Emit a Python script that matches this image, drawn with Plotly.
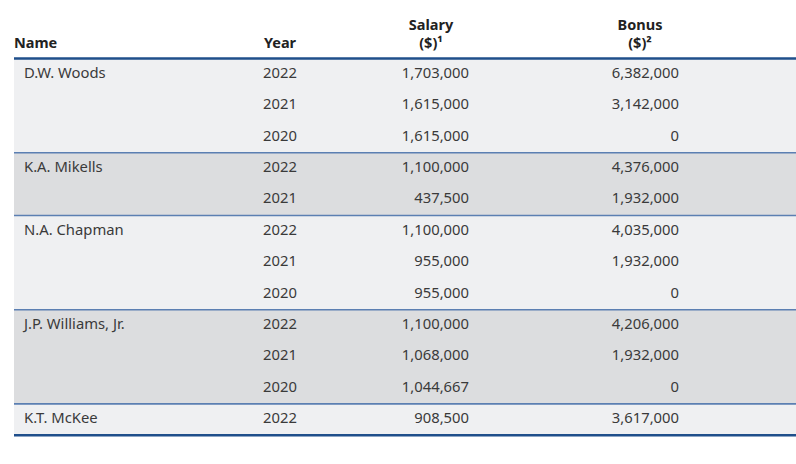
import plotly.graph_objects as go

# ---- data ----
names = ["D.W. Woods", "K.A. Mikells", "N.A. Chapman", "J.P. Williams, Jr.", "K.T. McKee"]
years = [[2022, 2021, 2020], [2022, 2021], [2022, 2021, 2020], [2022, 2021, 2020], [2022]]
salary = [[1703000, 1615000, 1615000], [1100000, 437500], [1100000, 955000, 955000],
          [1100000, 1068000, 1044667], [908500]]
bonus = [[6382000, 3142000, 0], [4376000, 1932000], [4035000, 1932000, 0],
         [4206000, 1932000, 0], [3617000]]
header_top = ["", "", "Salary", "Bonus"]
header_bottom = ["Name", "Year", "($)¹", "($)²"]

# ---- layout constants ----
W, H = 796, 464
ROW_PX = 31.4
TOP_PX = 58.5
col_x = [14, 280, 469, 679]       # Name (left), Year (center), Salary (right), Bonus (right)
head_x = [14, 280, 431, 640]
name_x = 24
table_left = 14
FONT = "Noto Sans"
TXT = "#3a3a3a"
DARK = "#1f4f8b"
MID = "#5b7fb2"
BAND = ["#eff0f2", "#dcdddf"]

fig = go.Figure()

# rows
row_names, row_years, row_sal, row_bon, row_y = [], [], [], [], []
group_bounds = []
r = 0
for gi, nm in enumerate(names):
    start = r
    for k in range(len(years[gi])):
        row_names.append(nm if k == 0 else "")
        row_years.append(str(years[gi][k]))
        row_sal.append(f"{salary[gi][k]:,}")
        row_bon.append(f"{bonus[gi][k]:,}")
        row_y.append(r + 0.5)
        r += 1
    group_bounds.append((start, r))
n_rows = r

shapes = []
for gi, (a, b) in enumerate(group_bounds):
    shapes.append(dict(type="rect", xref="x", yref="y", x0=table_left, x1=W, y0=a, y1=b,
                       fillcolor=BAND[gi % 2], line=dict(width=0), layer="below"))
for gi, (a, b) in enumerate(group_bounds[:-1]):
    shapes.append(dict(type="line", xref="x", yref="y", x0=table_left, x1=W, y0=b, y1=b,
                       line=dict(color=MID, width=1.6)))
shapes.append(dict(type="line", xref="x", yref="y", x0=table_left, x1=W, y0=0, y1=0,
                   line=dict(color=DARK, width=2.5)))
shapes.append(dict(type="line", xref="x", yref="y", x0=table_left, x1=W, y0=n_rows, y1=n_rows,
                   line=dict(color=DARK, width=2.5)))

tf = dict(family=FONT, size=14.8, color=TXT)

fig.add_trace(go.Scatter(x=[name_x] * n_rows, y=row_y, text=row_names, mode="text",
                         textposition="middle right", textfont=tf, hoverinfo="skip"))
fig.add_trace(go.Scatter(x=[col_x[1]] * n_rows, y=row_y, text=row_years, mode="text",
                         textposition="middle center", textfont=tf, hoverinfo="skip"))
fig.add_trace(go.Scatter(x=[col_x[2]] * n_rows, y=row_y, text=row_sal, mode="text",
                         textposition="middle left", textfont=tf, hoverinfo="skip"))
fig.add_trace(go.Scatter(x=[col_x[3]] * n_rows, y=row_y, text=row_bon, mode="text",
                         textposition="middle left", textfont=tf, hoverinfo="skip"))

hf = dict(family=FONT, size=14.5, color="#222222", weight="bold")
yb = (44.5 - TOP_PX) / ROW_PX
yt = (26 - TOP_PX) / ROW_PX
pos = ["middle right", "middle center", "middle center", "middle center"]
for i in range(4):
    fig.add_trace(go.Scatter(x=[head_x[i]], y=[yb], text=[header_bottom[i]], mode="text",
                             textposition=pos[i], textfont=hf, hoverinfo="skip"))
    if header_top[i]:
        fig.add_trace(go.Scatter(x=[head_x[i]], y=[yt], text=[header_top[i]], mode="text",
                                 textposition=pos[i], textfont=hf, hoverinfo="skip"))

fig.update_layout(
    width=W, height=H, margin=dict(l=0, r=0, t=0, b=0),
    paper_bgcolor="white", plot_bgcolor="white", showlegend=False,
    shapes=shapes, hovermode=False,
    xaxis=dict(range=[0, W], visible=False, fixedrange=True),
    yaxis=dict(range=[(H - TOP_PX) / ROW_PX, -TOP_PX / ROW_PX], visible=False, fixedrange=True),
)
fig.write_html("out.html", config={"displayModeBar": False},
               post_script="document.body.style.margin='0';document.body.style.overflow='hidden';")
